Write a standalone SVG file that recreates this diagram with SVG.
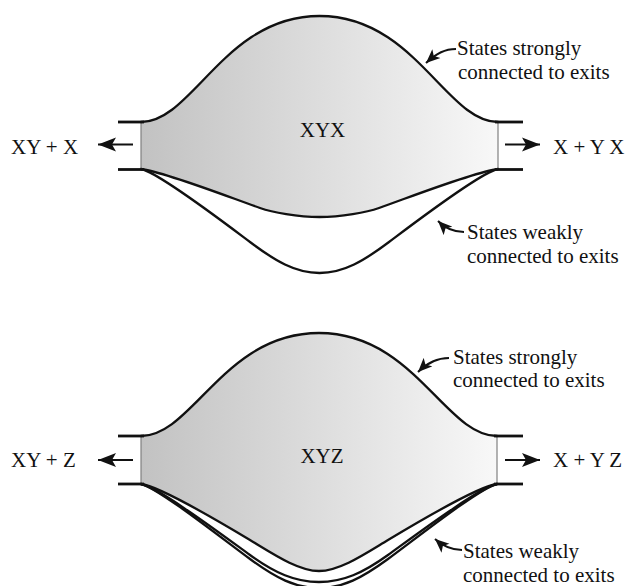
<svg xmlns="http://www.w3.org/2000/svg" width="633" height="586" viewBox="0 0 633 586">
<style>
.lbl{font-family:"Liberation Serif","Times New Roman",serif;font-size:21px;fill:#111}
.mid{text-anchor:middle}
.edge{fill:none;stroke:#111;stroke-width:2.3;stroke-linecap:round}
.brk{fill:none;stroke:#111;stroke-width:2.8}
.vert{fill:none;stroke:#808080;stroke-width:1.2}
.well{stroke:none}
.arr{fill:none;stroke:#111;stroke-width:2.2}
.ptr{fill:none;stroke:#111;stroke-width:2}
</style>
<defs>
<linearGradient id="g" x1="0" y1="0" x2="1" y2="0">
<stop offset="0" stop-color="#c2c2c2"/>
<stop offset="1" stop-color="#f8f8f8"/>
</linearGradient>
<marker id="head" markerUnits="userSpaceOnUse" markerWidth="19" markerHeight="15" refX="18" refY="7.5" orient="auto">
<path d="M0,0.5 L18,7.5 L0,14.5 L4,7.5 Z" fill="#111"/>
</marker>
<marker id="phead" markerUnits="userSpaceOnUse" markerWidth="15" markerHeight="13" refX="14" refY="6.5" orient="auto">
<path d="M0,0.5 L14,6.5 L0,12.5 L3.5,6.5 Z" fill="#111"/>
</marker>
</defs>

<g id="top-diagram">
<path class="well" fill="url(#g)" d="M141,122 C192.6,122 224.5,16 319.5,16 C414.5,16 446.4,122 498,122 L498,169 C474,172 409,197.5 379,208 C367,212.2 341,217 319.5,217 C298,217 272,212.2 260,208 C230,197.5 165,172 141,169 Z"/>
<path class="edge" d="M141,122 C192.6,122 224.5,16 319.5,16 C414.5,16 446.4,122 498,122"/>
<path class="edge" d="M141,169 C165,172 230,197.5 260,208 C272,212.2 298,217 319.5,217 C341,217 367,212.2 379,208 C409,197.5 474,172 498,169"/>
<path class="edge" d="M141,169 C158,172 225,223.25 250,242 C275,260.75 295,273 319.5,273 C344,273 364,260.75 389,242 C414,223.25 481,172 498,169"/>
<line class="vert" x1="141" y1="122" x2="141" y2="169"/>
<line class="vert" x1="498" y1="122" x2="498" y2="169"/>
<line class="brk" x1="118" y1="122" x2="144" y2="122"/>
<line class="brk" x1="118" y1="169.5" x2="144" y2="169.5"/>
<line class="brk" x1="495" y1="122" x2="523" y2="122"/>
<line class="brk" x1="495" y1="169.5" x2="523" y2="169.5"/>
<text class="lbl mid" x="322.5" y="137">XYX</text>
<text class="lbl" x="11" y="154">XY + X</text>
<text class="lbl" x="553" y="154">X + Y X</text>
<text class="lbl" x="457" y="55">States strongly</text>
<text class="lbl" x="458" y="79">connected to exits</text>
<text class="lbl" x="467" y="239">States weakly</text>
<text class="lbl" x="467" y="263">connected to exits</text>
</g>

<g id="bottom-diagram">
<path class="well" fill="url(#g)" d="M141,436 C192.6,436 224,333 319,333 C414,333 445.4,436 497,436 L497,484 C478,486 413,525 388,540 C366,553.2 340,571 319,571 C298,571 272,553.2 250,540 C225,525 160,486 141,484 Z"/>
<path class="edge" d="M141,436 C192.6,436 224,333 319,333 C414,333 445.4,436 497,436"/>
<path class="edge" d="M141,484 C160,486 225,525 250,540 C272,553.2 298,571 319,571 C340,571 366,553.2 388,540 C413,525 478,486 497,484"/>
<path class="edge" d="M141,484 C158,486.8 225,537 250,555 C275,573 295,582 319,582 C343,582 363,573 388,555 C413,537 480,486.8 497,484"/>
<path class="edge" d="M141,484 C157,487 224,540 250,559 C276,578 295,588 319,588 C343,588 362,578 388,559 C414,540 481,487 497,484"/>
<line class="vert" x1="141" y1="436" x2="141" y2="484"/>
<line class="vert" x1="497" y1="436" x2="497" y2="484"/>
<line class="brk" x1="118" y1="436" x2="144" y2="436"/>
<line class="brk" x1="118" y1="484" x2="144" y2="484"/>
<line class="brk" x1="494" y1="436" x2="523" y2="436"/>
<line class="brk" x1="494" y1="484" x2="523" y2="484"/>
<text class="lbl mid" x="322" y="463">XYZ</text>
<text class="lbl" x="11" y="467">XY + Z</text>
<text class="lbl" x="553" y="467">X + Y Z</text>
<text class="lbl" x="453" y="363.5">States strongly</text>
<text class="lbl" x="453" y="387">connected to exits</text>
<text class="lbl" x="463" y="558">States weakly</text>
<text class="lbl" x="463" y="582">connected to exits</text>
</g>

<g id="connectors">
<line class="arr" x1="133" y1="144.5" x2="98" y2="144.5" marker-end="url(#head)"/>
<line class="arr" x1="505" y1="144.5" x2="540" y2="144.5" marker-end="url(#head)"/>
<line class="arr" x1="133" y1="460" x2="98" y2="460" marker-end="url(#head)"/>
<line class="arr" x1="505" y1="460" x2="540" y2="460" marker-end="url(#head)"/>
<path class="ptr" d="M456,49 C445,49 437,53 426,63" marker-end="url(#phead)"/>
<path class="ptr" d="M464,232 C454,232 446,229 438,221" marker-end="url(#phead)"/>
<path class="ptr" d="M449,358 C438,358 428,362 418,372" marker-end="url(#phead)"/>
<path class="ptr" d="M462,550 C452,550 444,547 435,539" marker-end="url(#phead)"/>
</g>
</svg>
